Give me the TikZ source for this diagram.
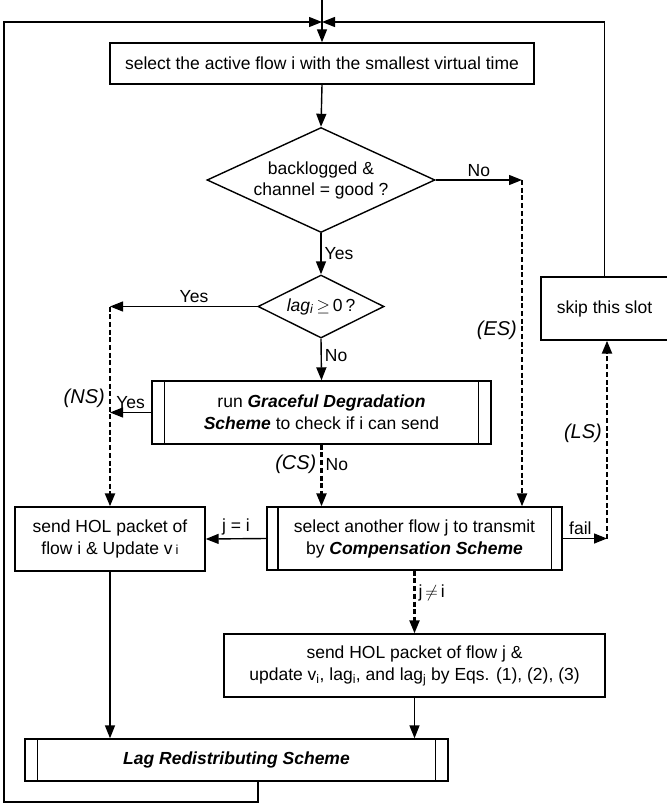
\documentclass[tikz,border=0pt]{standalone}
\usepackage{fontspec}
\setmainfont{Liberation Sans}
\usetikzlibrary{shapes.geometric}
\usetikzlibrary{arrows.meta}
\usetikzlibrary{calc}

\begin{document}
\begin{tikzpicture}[x=1pt,y=-1pt]

\tikzset{
box/.style = {draw, line width=1.4pt, inner sep=0pt, align=center, font=\fontsize{17.5}{22}\selectfont},
dia/.style = {draw, diamond, line width=1.4pt, inner sep=0pt, align=center, font=\fontsize{17.5}{21}\selectfont},
plain/.style = {line width=1.4pt},
line/.style = {plain, -{Triangle[length=13pt,width=10pt]}},
dotline/.style = {line width=2.3pt, dash pattern=on 5pt off 2.7pt, -{Triangle[length=13pt,width=10pt]}},
lbl/.style = {font=\fontsize{17.5}{21}\selectfont, inner sep=3pt},
tag/.style = {font=\itshape\fontsize{20}{24}\selectfont, inner sep=4pt}
}

\def\sidebars#1#2{
\draw[plain] ([xshift=#2]#1.north west) -- ([xshift=#2]#1.south west);
\draw[plain] ([xshift=-#2]#1.north east) -- ([xshift=-#2]#1.south east);
}

\useasboundingbox (0,0) rectangle (666,805);

% boxes
\node[box, minimum width=424pt, minimum height=41pt] (sel) at (322,63.5)
  {select the active flow i with the smallest virtual time};
\node[dia, aspect=2.17, minimum width=228pt, minimum height=105pt] (back) at (321,180)
  {backlogged \&\\channel = good ?};
\node[dia, aspect=2, minimum width=126pt, minimum height=63pt] (lagq) at (321,306.5)
  {\textit{lag}\textsubscript{\textit{i}}\,$\geq$\,0\,?};
\node[box, minimum width=339pt, minimum height=63pt] (gd) at (321.5,412.5)
  {run \textbf{\textit{Graceful Degradation}}\\\textbf{\textit{Scheme}} to check if i can send};
\node[box, minimum width=295pt, minimum height=63pt] (comp) at (414.5,538.5)
  {select another flow j to transmit\\by \textbf{\textit{Compensation Scheme}}};
\node[box, minimum width=190pt, minimum height=64pt] (send1) at (110,539)
  {send HOL packet of\\flow i \& Update v\,{\fontsize{13}{13}\selectfont i}};
\node[box, minimum width=381pt, minimum height=63pt] (send2) at (414.5,665.5)
  {send HOL packet of flow j \&\\update v\textsubscript{i}, lag\textsubscript{i}, and lag\textsubscript{j} by Eqs. (1), (2), (3)};
\node[box, minimum width=423pt, minimum height=42pt] (red) at (236.5,760)
  {\textbf{\textit{Lag Redistributing Scheme}}};
\node[box, minimum width=127pt, minimum height=63pt] (skip) at (604.5,308.5)
  {skip this slot};

\sidebars{gd}{13pt}
\sidebars{comp}{11.5pt}
\sidebars{red}{13pt}

% turning points
\coordinate (start) at (322,0);
\coordinate (top) at (322,22);
\coordinate (es) at (522,180);
\coordinate (ns) at (110,306.5);
\coordinate (ls) at (607,538.5);
\coordinate (loop) at (258,802);
\coordinate (corner) at (4,802);

% connectors
\draw[line] (start) -- (sel.north);
\draw[line] (sel.south) -- (back.north);
\draw[line] (back.east) -- node[lbl, above] (no1) {No} (es);
\draw[dotline] (es) -- node[tag, left, pos=0.46] (es-tag) {(ES)} (es |- comp.north);
\draw[line] (back.south) -- node[lbl, right] (yes1) {Yes} (lagq.north);
\draw[line] (lagq.west) -- node[lbl, above, pos=0.43] (yes2) {Yes} (ns);
\draw[dotline] (ns) -- node[tag, left, pos=0.46] (ns-tag) {(NS)} (send1.north);
\draw[line] (lagq.south) -- node[lbl, right, pos=0.4] (no2) {No} (gd.north);
\draw[line] (gd.west) -- node[lbl, above] (yes3) {Yes} (gd.west -| ns);
\draw[dotline] (gd.south) -- node[tag, left, pos=0.32] (cs-tag) {(CS)}
  node[lbl, right, pos=0.32] (no3) {No} (gd.south |- comp.north);
\draw[line] (comp.west) -- node[lbl, above] (jeq) {j = i} (send1.east);
\draw[line] (comp.east) -- node[lbl, above, pos=0.4] (fail) {fail} (ls);
\draw[dotline] (ls) -- node[tag, left, pos=0.53] (ls-tag) {(LS)} (ls |- skip.south);
\draw[dotline] (comp.south) -- node[lbl, right, pos=0.35] (jne) {j\,$\neq$\,i} (send2.north);
\draw[line] (send2.south) -- (send2.south |- red.north);
\draw[line] (send1.south) -- (send1.south |- red.north);
\draw[line] (skip.north) |- (top);
\draw[line] (red.south -| loop) -- (loop) -- (corner) |- (top);

\end{tikzpicture}
\end{document}
